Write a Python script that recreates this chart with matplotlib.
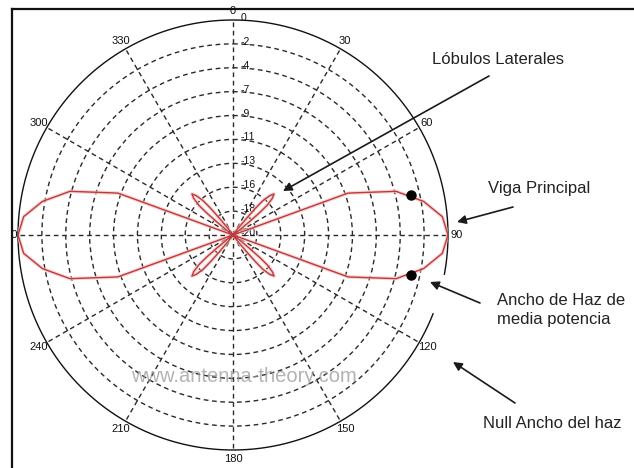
import numpy as np
import matplotlib
matplotlib.use("Agg")
import matplotlib.pyplot as plt
from matplotlib import transforms as mtransforms
from matplotlib.lines import Line2D
from matplotlib.patches import Rectangle, FancyArrowPatch

plt.rcParams['font.family'] = ['Liberation Sans', 'DejaVu Sans']

# ---------------------------------------------------------------- data
# Radiation pattern: azimuth (deg, clockwise from north) and gain (dB)
angles_deg = [0, 35, 37, 39, 40, 41, 43, 45, 47, 49, 50, 51, 53, 55,
              65, 70, 75, 80, 85, 90, 95, 100, 105, 110, 115,
              125, 127, 129, 130, 131, 133, 135, 137, 139, 140, 141, 143, 145,
              180, 215, 217, 219, 220, 221, 223, 225, 227, 229, 230, 231, 233, 235,
              245, 250, 255, 260, 265, 270, 275, 280, 285, 290, 295,
              305, 307, 309, 310, 311, 313, 315, 317, 319, 320, 321, 323, 325, 360]
gain_db = [-20, -20, -19.3, -18.0, -16.8, -15.8, -15.0, -14.6, -15.0, -15.8, -16.8, -18.0, -19.3, -20,
           -20, -8.6, -4.3, -2.0, -0.45, 0.0, -0.45, -2.0, -4.3, -8.6, -20,
           -20, -19.3, -18.0, -16.8, -15.8, -15.0, -14.6, -15.0, -15.8, -16.8, -18.0, -19.3, -20,
           -20, -20, -19.3, -18.0, -16.8, -15.8, -15.0, -14.6, -15.0, -15.8, -16.8, -18.0, -19.3, -20,
           -20, -8.6, -4.3, -2.0, -0.45, 0.0, -0.45, -2.0, -4.3, -8.6, -20,
           -20, -19.3, -18.0, -16.8, -15.8, -15.0, -14.6, -15.0, -15.8, -16.8, -18.0, -19.3, -20, -20]

# Half-power (-3 dB) points of the main beam
hp_angles_deg = [77.5, 102.5]
hp_db = [-3.0, -3.0]

# Axis scales and tick labels
r_min, r_max = -20, 0
ring_labels = ['-20', '-18', '-16', '-13', '-11', '-9', '-7', '-4', '-2', '0']
theta_ticks = [0, 30, 60, 90, 120, 150, 180, 210, 240, 270, 300, 330]
theta_labels = ['0', '30', '60', '90', '120', '150', '180', '210', '240', '270', '300', '330']

# ---------------------------------------------------------------- figure
W, H = 634, 468
fig = plt.figure(figsize=(W / 100, H / 100), dpi=100)
fig.patch.set_facecolor('white')


def fx(px):
    return px / W


def fy(py):
    return 1 - py / H


ax = fig.add_axes([fx(18), fy(450), 430 / W, 430 / H], projection='polar')
ax.set_theta_zero_location('N')
ax.set_theta_direction(-1)
ax.set_rlim(r_min, r_max)
ax.set_facecolor('none')

ring_values = np.linspace(r_min, r_max, len(ring_labels))
ax.set_rgrids(ring_values[1:-1], labels=[''] * (len(ring_values) - 2))
ax.set_thetagrids(theta_ticks, labels=theta_labels, fontsize=8)
ax.tick_params(axis='x', pad=-4, colors='#111111')
ax.grid(True, color='#2a2a2a', linestyle=(0, (3.4, 2.6)), linewidth=1.0)
ax.spines['polar'].set_visible(False)

# outer 0 dB circle, broken where the lower-right arrow passes
gap_start, gap_end = 100.5, 111.5
outer = np.deg2rad(np.linspace(gap_end, gap_start + 360, 400))
ax.plot(outer, np.full_like(outer, r_max), color='#111111', lw=1.0, clip_on=False, zorder=3)

# ring labels just right of the 0 deg spoke
lab_tr = mtransforms.offset_copy(ax.transData, fig=fig, x=8, y=2, units='dots')
for v, lab in zip(ring_values, ring_labels):
    ax.text(0, v, lab, transform=lab_tr, ha='left', va='center', fontsize=7.5,
            color='#111111', zorder=4)

# radiation pattern
th = np.deg2rad(angles_deg)
ax.plot(th, gain_db, color='#f3c4c4', lw=2.6, alpha=0.7, zorder=4)
ax.plot(th, gain_db, color='#c0393b', lw=1.0, zorder=5)
ax.plot(np.deg2rad(hp_angles_deg), hp_db, 'o', color='black', markersize=6.5, zorder=6)

# watermark
fig.text(fx(244), fy(377), 'www.antenna-theory.com', fontsize=14.5, color='#9a9a9a',
         alpha=0.75, ha='center', va='center', zorder=10)

# ---------------------------------------------------------------- callouts
txt_kw = dict(fontsize=12, color='#222222', ha='left', va='center')
fig.text(fx(432), fy(59), 'Lóbulos Laterales', **txt_kw)
fig.text(fx(488), fy(188), 'Viga Principal', **txt_kw)
fig.text(fx(497), fy(310), 'Ancho de Haz de\nmedia potencia', linespacing=1.35, **txt_kw)
fig.text(fx(483), fy(423), 'Null Ancho del haz', **txt_kw)

arrows = [((489, 76), (283, 191)),
          ((513, 207), (457, 222)),
          ((480, 303), (430, 282)),
          ((515, 403), (453, 362))]
for (tx, ty), (hx, hy) in arrows:
    fig.add_artist(FancyArrowPatch(
        (fx(tx), fy(ty)), (fx(hx), fy(hy)), transform=fig.transFigure,
        arrowstyle='-|>', mutation_scale=13, lw=1.2, color='#1a1a1a',
        shrinkA=0, shrinkB=0, zorder=12))

# frame
fig.add_artist(Rectangle((0, 0), fx(11), 1, transform=fig.transFigure,
                         facecolor='white', edgecolor='none', zorder=20))
fig.add_artist(Line2D([fx(11.5), fx(11.5)], [0, fy(8.5)], transform=fig.transFigure,
                      color='#111111', lw=1.6, zorder=21))
fig.add_artist(Line2D([fx(11.5), 1], [fy(8.5), fy(8.5)], transform=fig.transFigure,
                      color='#111111', lw=1.6, zorder=21))

fig.savefig('out.png', dpi=100)
